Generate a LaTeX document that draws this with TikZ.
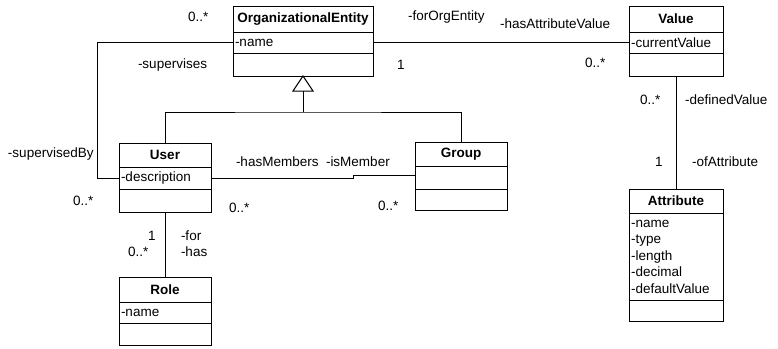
\documentclass[tikz,border=0pt]{standalone}
\usepackage{fontspec}
\setmainfont{Liberation Sans}
\usetikzlibrary{positioning}

\begin{document}
\begin{tikzpicture}[x=1pt, y=-1pt]
    \tikzstyle{every node} = [font=\fontsize{13.5}{16.5}\selectfont, inner sep=0pt, outer sep=0pt]
    \tikzstyle{head} = [draw, line width=1pt, anchor=north west, font=\fontsize{13.5}{16}\selectfont\bfseries]
    \tikzstyle{body} = [draw, line width=1pt, align=left, inner xsep=2pt]
    \tikzstyle{lbl} = [anchor=west]

    \useasboundingbox (0, 0) rectangle (778, 348);

    % classes
    \node [head, minimum width=140pt, minimum height=26pt] (oe) at (233, 6) {OrganizationalEntity};
    \node [body, below=0pt of oe, text width=136pt, minimum height=21pt] (oe-attr) {-name};
    \node [body, below=0pt of oe-attr, text width=136pt, minimum height=23pt] (oe-op) {};

    \node [head, minimum width=94pt, minimum height=26pt] (value) at (629, 6) {Value};
    \node [body, below=0pt of value, text width=90pt, minimum height=21pt] (value-attr) {-currentValue};
    \node [body, below=0pt of value-attr, text width=90pt, minimum height=23pt] (value-op) {};

    \node [head, minimum width=92pt, minimum height=24pt] (user) at (119, 143) {User};
    \node [body, below=0pt of user, text width=88pt, minimum height=22pt] (user-attr) {-description};
    \node [body, below=0pt of user-attr, text width=88pt, minimum height=23pt] (user-op) {};

    \node [head, minimum width=92pt, minimum height=24pt] (group) at (415, 142) {Group};
    \node [body, below=0pt of group, text width=88pt, minimum height=23pt] (group-attr) {};
    \node [body, below=0pt of group-attr, text width=88pt, minimum height=21pt] (group-op) {};

    \node [head, minimum width=92pt, minimum height=25pt] (role) at (119, 277) {Role};
    \node [body, below=0pt of role, text width=88pt, minimum height=21pt] (role-attr) {-name};
    \node [body, below=0pt of role-attr, text width=88pt, minimum height=22pt] (role-op) {};

    \node [head, minimum width=94pt, minimum height=24pt] (attr) at (629, 189) {Attribute};
    \node [body, below=0pt of attr, text width=90pt, minimum height=87pt] (attr-attr) {-name\\-type\\-length\\-decimal\\-defaultValue};
    \node [body, below=0pt of attr-attr, text width=90pt, minimum height=21pt] (attr-op) {};

    % generalization
    \coordinate (gen) at ([yshift=-15pt]oe-op.south);
    \coordinate (join) at ([yshift=-36pt]oe-op.south);
    \draw [line width=1pt] (oe-op.south) -- ++(-10, 15) -- ++(20, 0) -- cycle;
    \draw [line width=1pt] (gen) -- (join);
    \draw [line width=1pt] (user.north) |- (join) -| (group.north);

    % associations
    \draw [line width=1pt] (oe-attr.west) -| ([xshift=-22pt]user-attr.west) -- (user-attr.west);
    \draw [line width=1pt] (oe-attr.east) -- (value-attr.west);
    \draw [line width=1pt] (user-attr.east) -- ++(142, 0) |- ([yshift=2pt]group-attr.west);
    \draw [line width=1pt] (user-op.south) -- (role.north);
    \draw [line width=1pt] (value-op.south) -- (attr.north);

    % role names and multiplicities
    \node [lbl] (m-sup) at (188, 17) {0..*};
    \node [lbl] (r-sup) at (138, 65) {-supervises};
    \node [lbl] (r-supby) at (8, 154) {-supervisedBy};
    \node [lbl] (m-supby) at (73, 201) {0..*};
    \node [lbl] (r-hasm) at (236, 162) {-hasMembers};
    \node [lbl] (r-ism) at (326, 162) {-isMember};
    \node [lbl] (m-user) at (229, 208) {0..*};
    \node [lbl] (m-group) at (378, 206) {0..*};
    \node [lbl] (m-for) at (148, 236) {1};
    \node [lbl] (m-has) at (128, 252) {0..*};
    \node [lbl] (r-for) at (181, 236) {-for};
    \node [lbl] (r-has) at (181, 252) {-has};
    \node [lbl] (r-foe) at (408, 17) {-forOrgEntity};
    \node [lbl] (r-hav) at (500, 24) {-hasAttributeValue};
    \node [lbl] (m-foe) at (397, 65) {1};
    \node [lbl] (m-hav) at (585, 63) {0..*};
    \node [lbl] (m-def) at (640, 100) {0..*};
    \node [lbl] (r-def) at (685, 100) {-definedValue};
    \node [lbl] (m-ofa) at (655, 162) {1};
    \node [lbl] (r-ofa) at (692, 162) {-ofAttribute};
\end{tikzpicture}
\end{document}
